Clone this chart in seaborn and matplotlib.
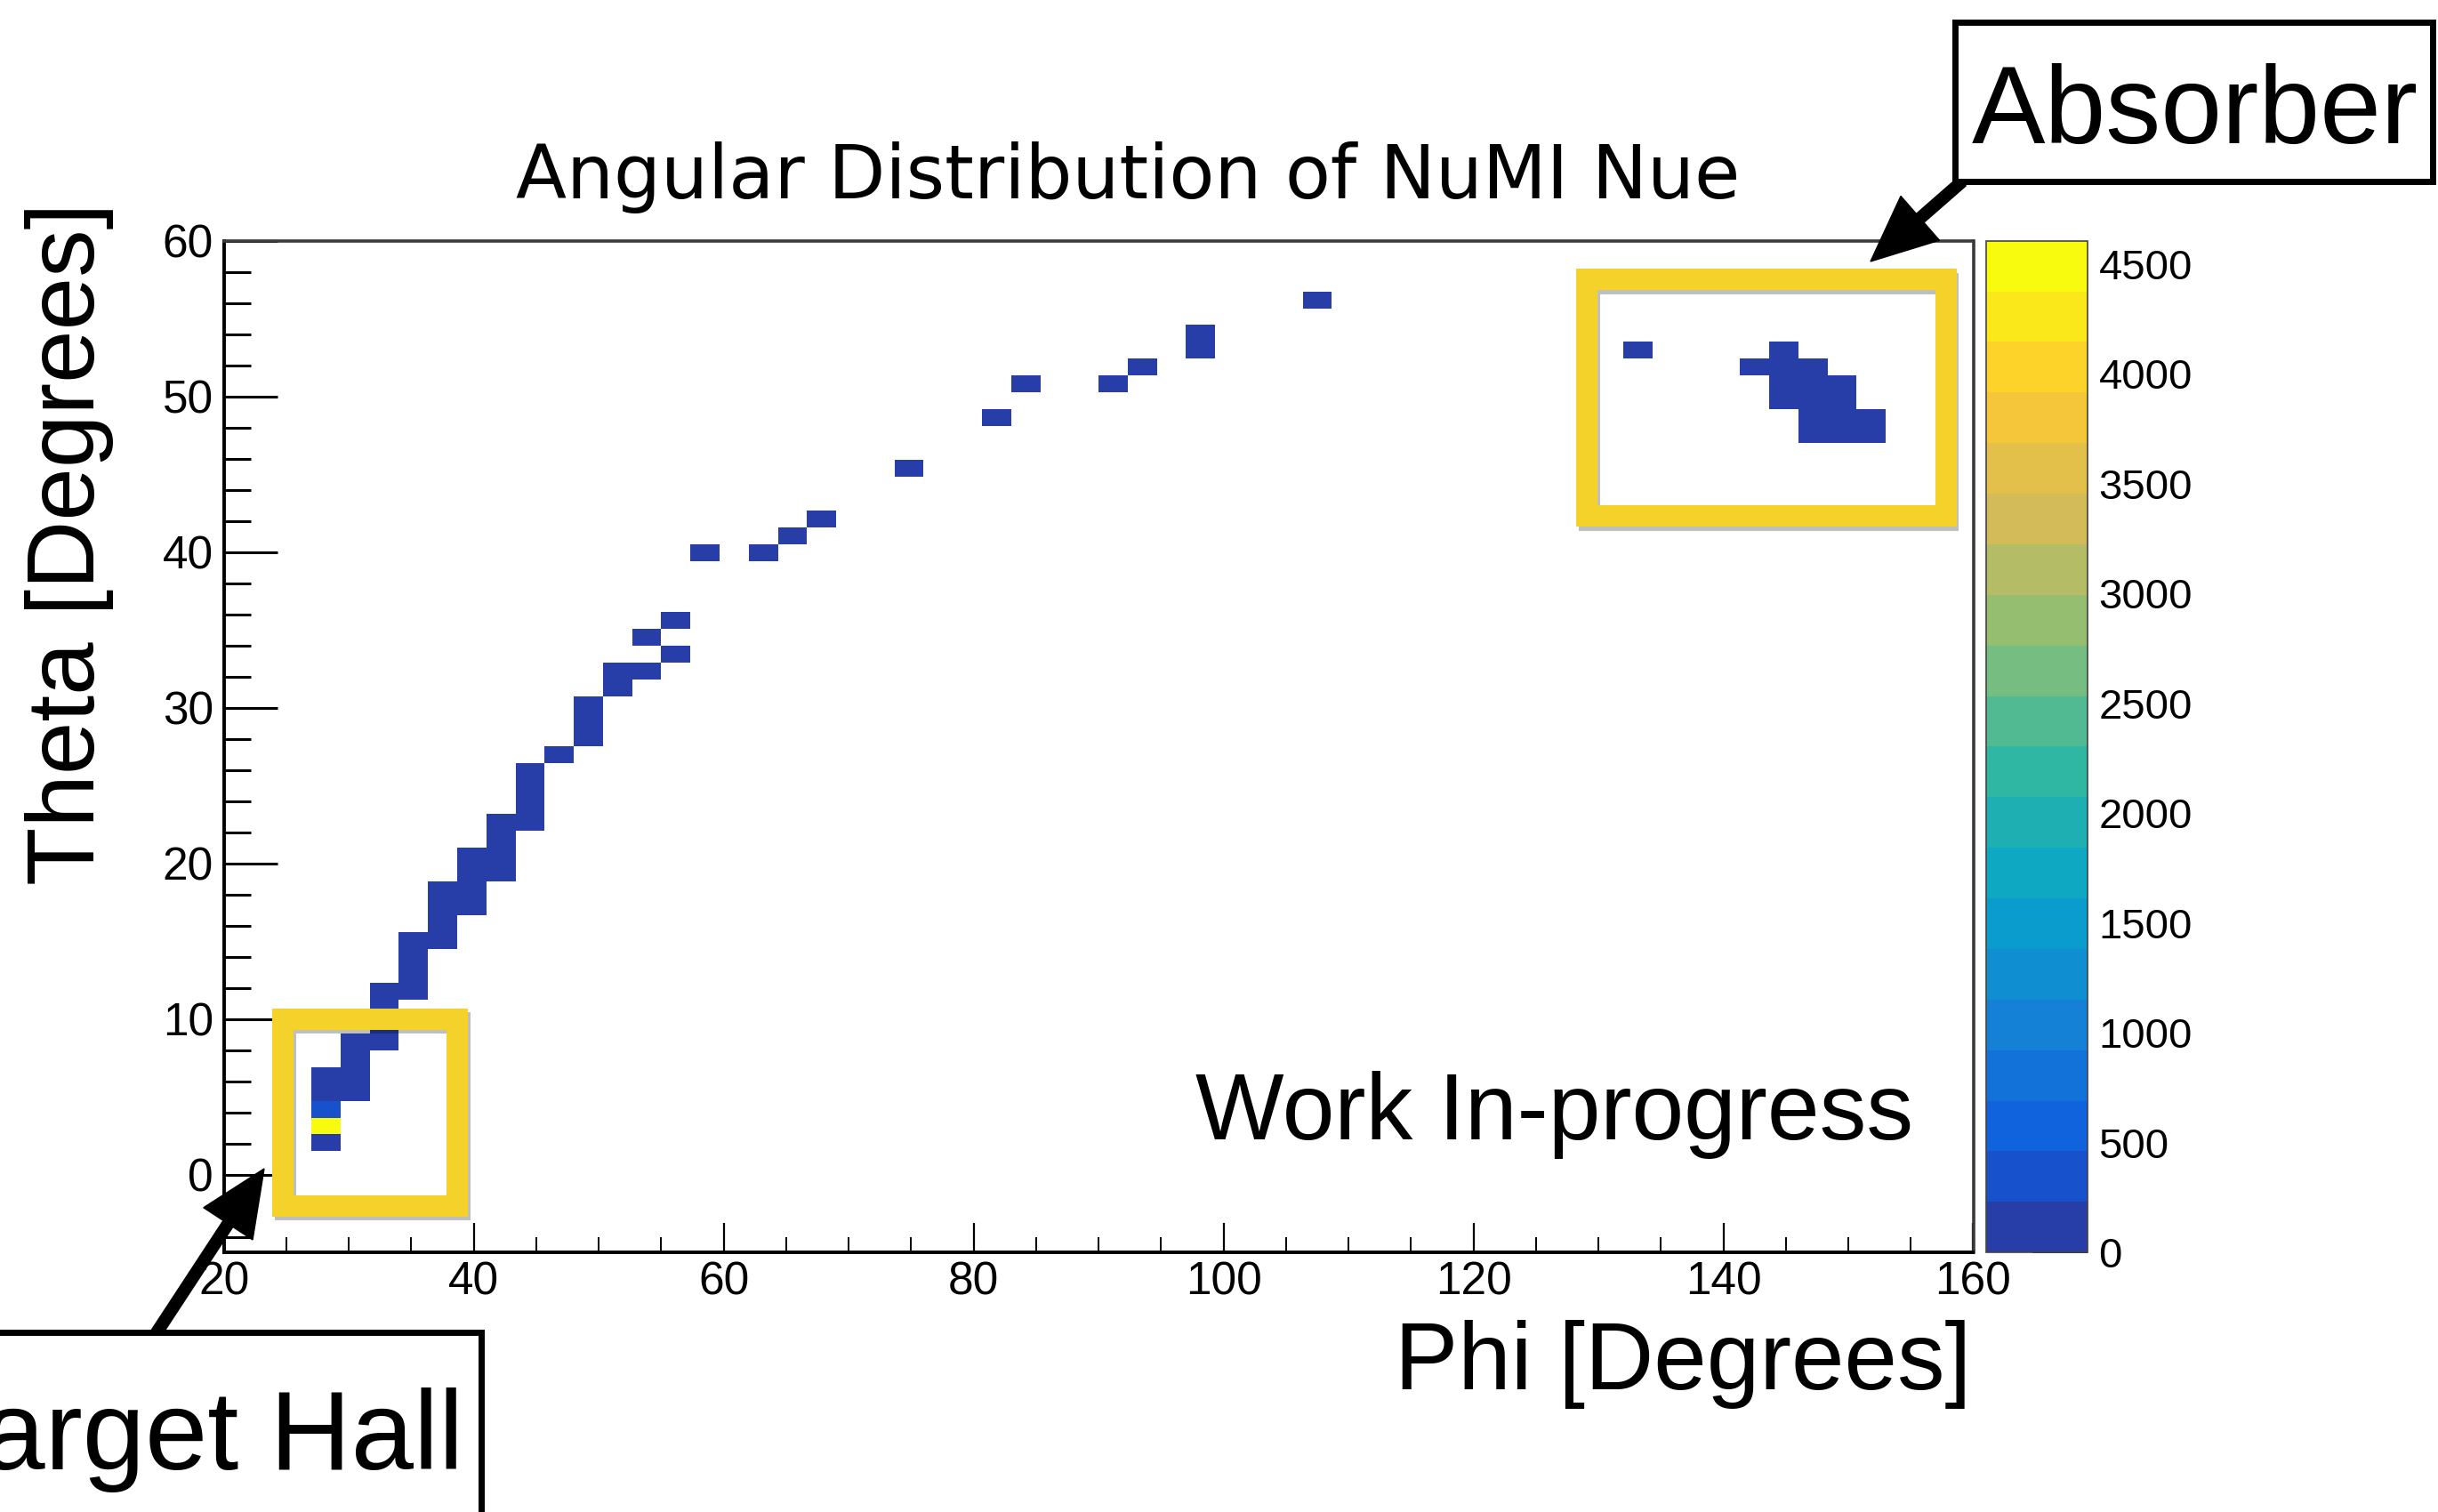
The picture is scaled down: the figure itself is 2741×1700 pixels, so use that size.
import matplotlib
matplotlib.use("Agg")
import numpy as np
import pandas as pd
import seaborn as sns
import matplotlib.pyplot as plt
from matplotlib.colors import LinearSegmentedColormap, ListedColormap
from matplotlib.patches import Rectangle, FancyArrow
from matplotlib.ticker import MultipleLocator
import matplotlib.patheffects as pe

# ---------------- data ----------------
# each entry = one filled histogram cell: (phi centre, theta centre, count)
phi_deg = [28.2, 28.2, 28.2, 28.2, 28.2,
           30.5, 30.5, 30.5, 30.5,
           32.8, 32.8, 32.8, 32.8,
           35.2, 35.2, 35.2, 35.2,
           37.5, 37.5, 37.5, 37.5,
           39.8, 39.8, 39.8, 39.8,
           42.2, 42.2, 42.2, 42.2,
           44.5, 44.5, 44.5, 44.5,
           46.8,
           49.2, 49.2, 49.2,
           51.5, 51.5,
           53.8, 53.8,
           56.2, 56.2,
           58.5, 63.2, 65.5, 67.8, 74.8, 81.8, 84.2, 91.2, 93.5,
           98.2, 98.2,
           107.5,
           133.2,
           142.5,
           144.8, 144.8, 144.8, 144.8,
           147.2, 147.2, 147.2, 147.2, 147.2,
           149.5, 149.5, 149.5, 149.5,
           151.8, 151.8]
theta_deg = [2.0, 3.1, 4.2, 5.3, 6.4,
             5.3, 6.4, 7.5, 8.5,
             8.5, 9.6, 10.7, 11.8,
             11.8, 12.9, 14.0, 15.0,
             15.0, 16.1, 17.2, 18.3,
             17.2, 18.3, 19.4, 20.5,
             19.4, 20.5, 21.5, 22.6,
             22.6, 23.7, 24.8, 25.9,
             27.0,
             28.0, 29.1, 30.2,
             31.3, 32.4,
             32.4, 34.5,
             33.5, 35.6,
             40.0, 40.0, 41.0, 42.1, 45.4, 48.6, 50.8, 50.8, 51.9,
             53.0, 54.0,
             56.2,
             53.0,
             51.9,
             53.0, 51.9, 50.8, 49.7,
             51.9, 50.8, 49.7, 48.6, 47.5,
             50.8, 49.7, 48.6, 47.5,
             48.6, 47.5]
counts = [60, 4606, 420, 90, 70,
          80, 110, 60, 50,
          70, 60, 50, 40,
          60, 70, 50, 40,
          55, 60, 45, 40,
          50, 40, 45, 35,
          40, 50, 35, 30,
          40, 35, 30, 25,
          30,
          30, 35, 25,
          30, 25,
          20, 25,
          20, 20,
          20, 15, 15, 20, 15, 15, 15, 10, 15,
          20, 15,
          10,
          10,
          20,
          25, 40, 35, 30,
          30, 45, 40, 35, 25,
          30, 35, 40, 30,
          20, 25]

phi_range = (20, 160)
theta_range = (-5, 60)
n_bins = 60
n_levels = 20
x_ticks = [20, 40, 60, 80, 100, 120, 140, 160]
y_ticks = [0, 10, 20, 30, 40, 50, 60]
z_ticks = [0, 500, 1000, 1500, 2000, 2500, 3000, 3500, 4000, 4500]

title = "Angular Distribution of NuMI Nue"
x_label = "Phi [Degrees]"
y_label = "Theta [Degrees]"
note = "Work In-progress"
target_label = "Target Hall"
absorber_label = "Absorber"
target_region = (24.7, -2.0, 38.7, 10.0)      # phi0, theta0, phi1, theta1
absorber_region = (129.1, 42.3, 157.8, 57.5)

# ROOT kBird palette
bird_stops = [0.0, 0.125, 0.25, 0.375, 0.5, 0.625, 0.75, 0.875, 1.0]
bird_r = [0.2082, 0.0592, 0.0780, 0.0232, 0.1802, 0.5301, 0.8186, 0.9956, 0.9764]
bird_g = [0.1664, 0.3599, 0.5041, 0.6419, 0.7178, 0.7492, 0.7328, 0.7862, 0.9832]
bird_b = [0.5293, 0.8684, 0.8385, 0.7914, 0.6425, 0.4662, 0.3499, 0.1968, 0.0539]

# ---------------- style ----------------
sns.set_theme(style="white")
plt.rcParams["font.family"] = ["Liberation Sans", "DejaVu Sans"]
plt.rcParams["text.color"] = "black"
plt.rcParams["axes.edgecolor"] = "black"
plt.rcParams["xtick.color"] = "black"
plt.rcParams["ytick.color"] = "black"

W, H = 2741, 1700
fig = plt.figure(figsize=(W / 100, H / 100), dpi=100)
fig.patch.set_facecolor("white")


def fx(X):
    return X / W


def fy(Y):
    return 1 - Y / H


ax_left, ax_right, ax_top, ax_bot = 251.7, 2218.5, 270.7, 1408.2
ax = fig.add_axes([fx(ax_left), fy(ax_bot), (ax_right - ax_left) / W, (ax_bot - ax_top) / H])
cax = fig.add_axes([fx(2233), fy(ax_bot), (2347 - 2233) / W, (ax_bot - ax_top) / H])

bird = LinearSegmentedColormap.from_list(
    "bird", list(zip(bird_stops, zip(bird_r, bird_g, bird_b))))
# ROOT colz: each of the 20 contour bands takes the palette colour at its upper end
cmap = ListedColormap([bird((i + 1) / n_levels) for i in range(n_levels)])

df = pd.DataFrame({"phi": phi_deg, "theta": theta_deg, "n": counts})
phi_edges = np.linspace(phi_range[0], phi_range[1], n_bins + 1)
theta_edges = np.linspace(theta_range[0], theta_range[1], n_bins + 1)

sns.histplot(data=df, x="phi", y="theta", weights="n",
             bins=(phi_edges, theta_edges), cmap=cmap, ax=ax, cbar=False)
mesh = ax.collections[0]
mesh.set_clim(0, max(counts))

ax.set_xlim(*phi_range)
ax.set_ylim(*theta_range)
ax.set_xlabel("")
ax.set_ylabel("")

narrow = ["Liberation Sans Narrow", "Liberation Sans", "DejaVu Sans"]
ax.set_xticks(x_ticks, labels=[str(v) for v in x_ticks], family=narrow, fontsize=37)
ax.set_yticks(y_ticks, labels=[str(v) for v in y_ticks], family=narrow, fontsize=37)
ax.xaxis.set_minor_locator(MultipleLocator(5))
ax.yaxis.set_minor_locator(MultipleLocator(2))
ax.tick_params(axis="x", which="major", direction="in", length=23.8, width=1.6,
               pad=6.5, bottom=True, top=False)
ax.tick_params(axis="x", which="minor", direction="in", length=12, width=1.4,
               bottom=True, top=False)
ax.tick_params(axis="y", which="major", direction="in", length=43, width=2.2,
               pad=8.6, left=True, right=False)
ax.tick_params(axis="y", which="minor", direction="in", length=21.6, width=2.2,
               left=True, right=False)
for side in ["left", "bottom"]:
    ax.spines[side].set_linewidth(2.8)
    ax.spines[side].set_color("black")
for side in ["top", "right"]:
    ax.spines[side].set_linewidth(2.6)
    ax.spines[side].set_color("#3a3a3a")
ax.grid(False)

# colour bar
cb = fig.colorbar(mesh, cax=cax, ticks=z_ticks)
cax.yaxis.set_ticks_position("right")
cax.tick_params(axis="y", which="major", direction="in", length=44.6, width=1.3,
                labelsize=34, pad=9, colors="black")
cax.minorticks_off()
cb.outline.set_linewidth(1.2)
cb.outline.set_edgecolor("#444444")

# yellow frames around the two regions
shadow = [pe.SimpleLineShadow(offset=(2, -3), shadow_color="black", alpha=0.25),
          pe.Normal()]
for (p0, t0, p1, t1) in [target_region, absorber_region]:
    r = Rectangle((p0, t0), p1 - p0, t1 - t0, fill=False, edgecolor="#f4d22a",
                  linewidth=17.3, zorder=6, clip_on=False, joinstyle="miter")
    r.set_path_effects(shadow)
    ax.add_patch(r)

# texts
fig.text(fx(1268), fy(223), title, ha="center", va="baseline",
         fontsize=60, family=["DejaVu Sans"])
fig.text(fx(78), fy(611), y_label, rotation=90, ha="center", va="center", fontsize=77)
fig.text(fx(1892), fy(1534), x_label, ha="center", va="center", fontsize=77)
fig.text(fx(1748), fy(1281), note, ha="center", va="baseline", fontsize=76)

# callout boxes (figure inches)
tr = fig.dpi_scale_trans
fig.add_artist(Rectangle((21.98, (H - 203.5) / 100), 5.37, 1.785, transform=tr,
                         facecolor="white", edgecolor="black", linewidth=5, zorder=4))
fig.add_artist(Rectangle((-0.2, -0.2), 5.61, (H - 1498) / 100 + 0.2, transform=tr,
                         facecolor="white", edgecolor="black", linewidth=5, zorder=4))
fig.text(fx(2468), fy(161), absorber_label, ha="center", va="baseline", fontsize=89, zorder=5)
fig.text(fx(521), fy(1652), target_label, ha="right", va="baseline", fontsize=91, zorder=5)

# arrows (figure inches)
def arrow(X0, Y0, X1, Y1):
    x0, y0 = X0 / 100, (H - Y0) / 100
    x1, y1 = X1 / 100, (H - Y1) / 100
    a = FancyArrow(x0, y0, x1 - x0, y1 - y0, width=0.13, head_width=0.66,
                   head_length=0.74, length_includes_head=True, transform=tr,
                   color="black", zorder=3)
    fig.add_artist(a)


arrow(2206, 204, 2103, 294)
arrow(175, 1500, 297, 1314)

fig.savefig("out.png", dpi=100, facecolor="white")
